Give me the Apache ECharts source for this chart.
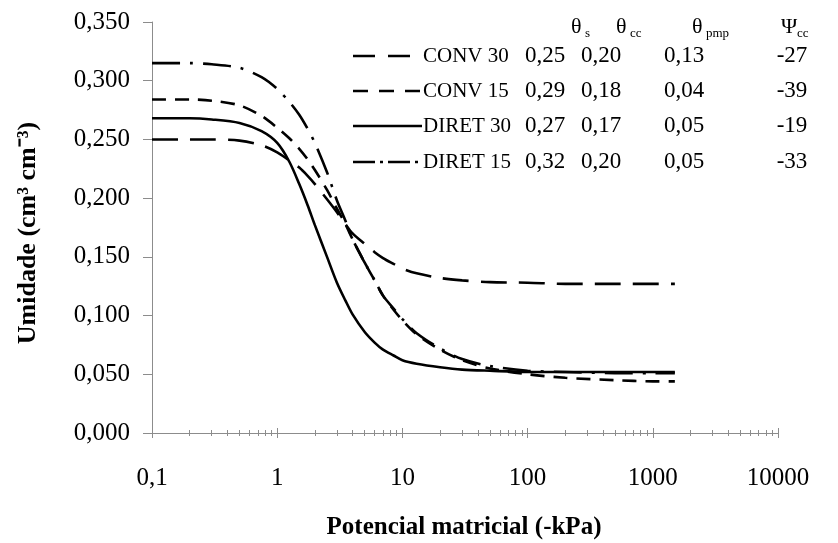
<!DOCTYPE html>
<html>
<head>
<meta charset="utf-8">
<script src="https://cdn.jsdelivr.net/npm/echarts@6/dist/echarts.min.js"></script>
<style>
  html, body { margin: 0; padding: 0; background: #fff; }
  #chart { width: 838px; height: 543px; }
</style>
</head>
<body>
<div id="chart"></div>
<script>
// Potencial matricial (-kPa) sample points
const psi = [0.1, 0.2, 0.3, 0.5, 0.75, 1, 1.25, 1.5, 1.75, 2, 2.5, 3, 3.5, 4, 5, 6, 7, 8.5, 10, 13, 20, 30, 50, 100, 200, 500, 1000, 1500];

// Umidade (cm3 cm-3)
const conv30  = [0.250, 0.250, 0.250, 0.249, 0.245, 0.239, 0.232, 0.226, 0.219, 0.212, 0.199, 0.188, 0.178, 0.170, 0.161, 0.154, 0.149, 0.144, 0.140, 0.136, 0.132, 0.130, 0.1285, 0.128, 0.127, 0.127, 0.127, 0.127];
const conv15  = [0.284, 0.284, 0.283, 0.279, 0.270, 0.260, 0.251, 0.242, 0.233, 0.224, 0.207, 0.191, 0.178, 0.165, 0.145, 0.130, 0.117, 0.105, 0.096, 0.084, 0.071, 0.062, 0.055, 0.050, 0.047, 0.045, 0.044, 0.044];
const diret30 = [0.268, 0.268, 0.267, 0.264, 0.257, 0.247, 0.231, 0.212, 0.194, 0.177, 0.150, 0.128, 0.113, 0.101, 0.086, 0.077, 0.071, 0.066, 0.062, 0.059, 0.056, 0.054, 0.053, 0.052, 0.052, 0.052, 0.052, 0.052];
const diret15 = [0.315, 0.315, 0.314, 0.311, 0.303, 0.293, 0.282, 0.271, 0.259, 0.247, 0.222, 0.198, 0.181, 0.165, 0.145, 0.130, 0.117, 0.106, 0.097, 0.085, 0.072, 0.063, 0.057, 0.053, 0.052, 0.051, 0.051, 0.051];

const seriesNames = ['CONV 30', 'CONV 15', 'DIRET 30', 'DIRET 15'];

// Parameter table
const tableHeaders = [['θ', 's'], ['θ', 'cc'], ['θ', 'pmp'], ['Ψ', 'cc']];
const thetaS   = ['0,25', '0,29', '0,27', '0,32'];
const thetaCC  = ['0,20', '0,18', '0,17', '0,20'];
const thetaPMP = ['0,13', '0,04', '0,05', '0,05'];
const psiCC    = ['-27', '-39', '-19', '-33'];

const xTickLabels = {0.1: '0,1', 1: '1', 10: '10', 100: '100', 1000: '1000', 10000: '10000'};

const FONT = 'Liberation Serif';
const AXIS_COLOR = '#8c8c8c';

function pairs(ys) { return psi.map((x, i) => [x, ys[i]]); }

const dashTypes = [[26, 12], [14, 9], 'solid', [28, 10, 3, 10]];
const legendDash = [[22, 13], [15, 11], null, [22, 5, 3, 5]];
const allY = [conv30, conv15, diret30, diret15];

const series = seriesNames.map((name, i) => ({
  name: name,
  type: 'line',
  xAxisIndex: 0,
  data: pairs(allY[i]),
  showSymbol: false,
  symbol: 'none',
  smooth: 0.3,
  lineStyle: { color: '#000', width: 2.6, type: dashTypes[i] },
  itemStyle: { color: '#000' },
  z: 3
}));

const graphics = [];
// legend keys (graphic)
const legendRows = [56, 91, 126, 162];
seriesNames.forEach((name, i) => {
  graphics.push({
    type: 'line',
    shape: { x1: 353, y1: legendRows[i], x2: 422, y2: legendRows[i] },
    style: { stroke: '#000', lineWidth: 2.6, lineDash: legendDash[i] }
  });
  graphics.push({
    type: 'text', x: 423, y: legendRows[i],
    style: { text: name, font: '21px "' + FONT + '"', fill: '#000', align: 'left', verticalAlign: 'middle' }
  });
});

// table graphics
const headerX = [571, 616, 692, 781];
const subX = [585, 630, 706, 797];
tableHeaders.forEach((h, i) => {
  graphics.push({ type: 'text', x: headerX[i], y: 27, style: { text: h[0], font: '22px "' + FONT + '"', fill: '#000', verticalAlign: 'middle' } });
  graphics.push({ type: 'text', x: subX[i], y: 34, style: { text: h[1], font: '13px "' + FONT + '"', fill: '#000', verticalAlign: 'middle' } });
});
const colCenters = [545, 601, 684, 792];
[thetaS, thetaCC, thetaPMP, psiCC].forEach((col, c) => {
  col.forEach((v, r) => {
    graphics.push({
      type: 'text', x: colCenters[c], y: legendRows[r],
      style: { text: v, font: '23px "' + FONT + '"', fill: '#000', align: 'center', verticalAlign: 'middle' }
    });
  });
});
// axis titles
graphics.push({
  type: 'text', x: 464, y: 528,
  style: { text: 'Potencial matricial (-kPa)', font: 'bold 25px "' + FONT + '"', fill: '#000', align: 'center', verticalAlign: 'middle' }
});
graphics.push({
  type: 'text', x: 28, y: 233, rotation: Math.PI / 2,
  style: { text: 'Umidade (cm³ cm⁻³)', font: 'bold 26px "' + FONT + '"', fill: '#000', align: 'center', verticalAlign: 'middle' }
});

const chart = echarts.init(document.getElementById('chart'), null, { renderer: 'canvas' });
chart.setOption({
  backgroundColor: '#fff',
  animation: false,
  grid: { left: 152, right: 60, top: 22, bottom: 110, containLabel: false },
  xAxis: [{
    type: 'log',
    logBase: 10,
    min: 0.1,
    max: 10000,
    axisLine: { show: true, onZero: false, lineStyle: { color: AXIS_COLOR, width: 1 } },
    axisTick: { show: true, inside: false, length: 5, lineStyle: { color: AXIS_COLOR } },
    minorTick: { show: true, splitNumber: 9, length: 3, lineStyle: { color: AXIS_COLOR } },
    splitLine: { show: false },
    axisLabel: {
      margin: 33,
      fontFamily: FONT, fontSize: 25, color: '#000',
      formatter: v => (xTickLabels[+v] !== undefined ? xTickLabels[+v] : String(v).replace('.', ','))
    }
  }, {
    type: 'log',
    logBase: 10,
    min: 0.1,
    max: 10000,
    position: 'bottom',
    axisLine: { show: false },
    axisTick: { show: true, inside: true, length: 5, lineStyle: { color: AXIS_COLOR } },
    minorTick: { show: true, splitNumber: 9, length: 3, lineStyle: { color: AXIS_COLOR } },
    splitLine: { show: false },
    axisLabel: { show: false }
  }],
  yAxis: {
    type: 'value',
    min: 0,
    max: 0.35,
    interval: 0.05,
    axisLine: { show: true, lineStyle: { color: AXIS_COLOR, width: 1 } },
    axisTick: { show: true, inside: false, length: 9, lineStyle: { color: AXIS_COLOR } },
    splitLine: { show: false },
    axisLabel: {
      margin: 22,
      fontFamily: FONT, fontSize: 25, color: '#000',
      formatter: v => v.toFixed(3).replace('.', ',')
    }
  },
  series: series,
  graphic: graphics
});
</script>
</body>
</html>
